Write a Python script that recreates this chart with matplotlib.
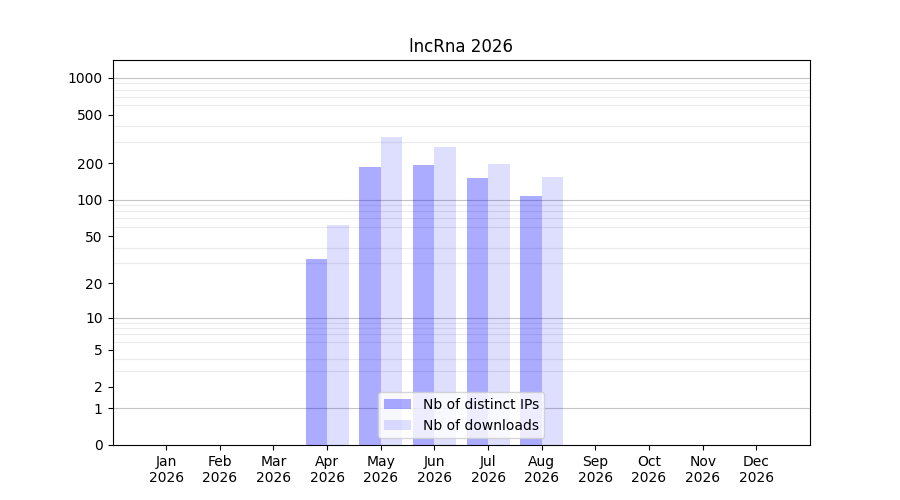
import numpy as np
import matplotlib.pyplot as plt
from matplotlib.ticker import FixedLocator

months = ["Jan", "Feb", "Mar", "Apr", "May", "Jun", "Jul", "Aug", "Sep", "Oct", "Nov", "Dec"]
year = "2026"
ips = [0, 0, 0, 32, 187, 194, 152, 108, 0, 0, 0, 0]
downloads = [0, 0, 0, 62, 330, 272, 198, 155, 0, 0, 0, 0]
yticks = [0, 1, 2, 5, 10, 20, 50, 100, 200, 500, 1000]
decades = [1, 10, 100, 1000]

fig, ax = plt.subplots(figsize=(9, 5), dpi=100)
ax.set_yscale("function", functions=(lambda v: np.log10(1 + np.clip(v, 0, None)),
                                     lambda v: 10 ** v - 1))
ax.set_axisbelow(True)

x = np.arange(1, 13)
ax.bar(x, ips, width=-0.4, align="edge", color="blue", alpha=0.33,
       linewidth=0, label="Nb of distinct IPs", zorder=2)
ax.bar(x, downloads, width=0.4, align="edge", color="blue", alpha=0.13,
       linewidth=0, label="Nb of downloads", zorder=2)

# light grid at every 2..9 multiple, darker at decades
minor = [m * d for d in decades for m in range(2, 10) if m * d < 1400]
ax.yaxis.set_minor_locator(FixedLocator(minor))
ax.grid(which="minor", axis="y", color="#ebebeb", linewidth=0.8, zorder=0)
ax.tick_params(which="minor", length=0)
for d in decades:
    ax.axhline(d, color="#c4c4c4", linewidth=0.8, zorder=0.5)

ax.set_ylim(0, 1400)
ax.set_yticks(yticks)
ax.set_yticklabels([str(t) for t in yticks])
ax.set_xlim(0, 13)
ax.set_xticks(x)
ax.set_xticklabels([m + "\n" + year for m in months])
ax.set_title("lncRna 2026")
ax.legend(loc="lower center")

fig.savefig("out.png")
